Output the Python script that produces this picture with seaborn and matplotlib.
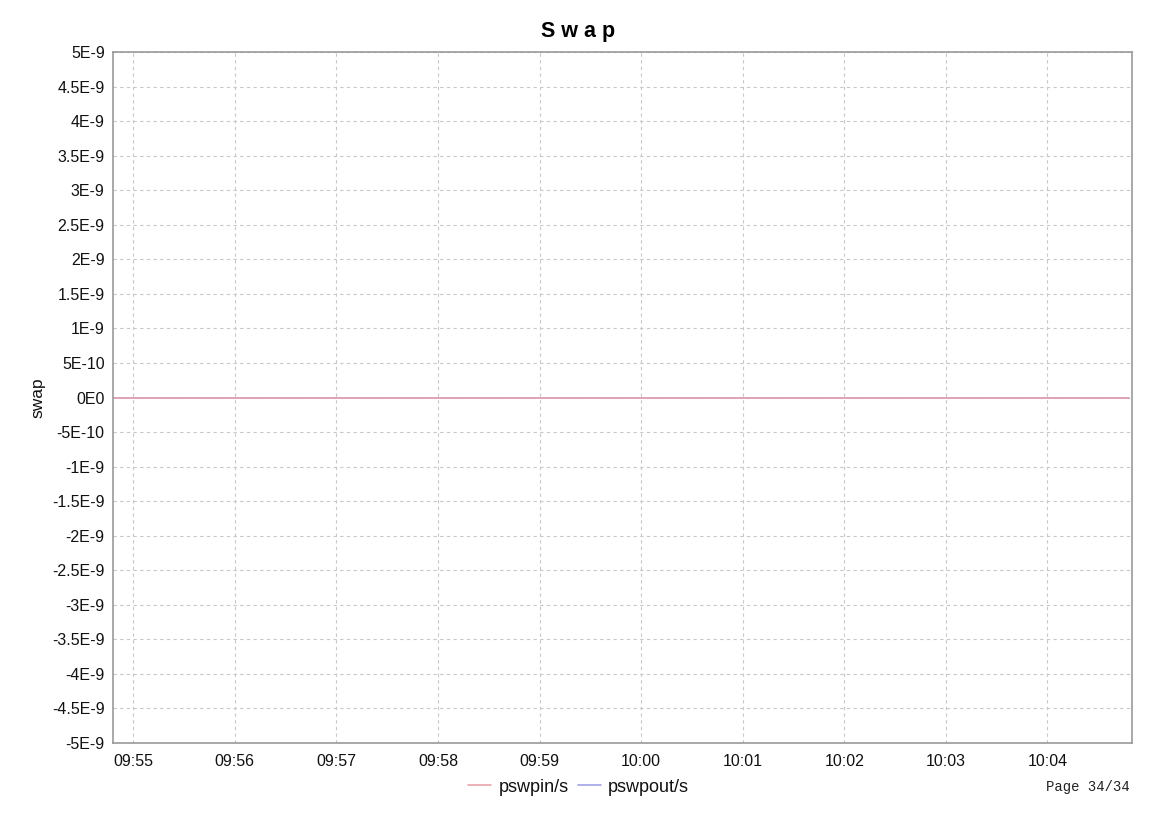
import pandas as pd
import numpy as np
import matplotlib
matplotlib.use('Agg')
import matplotlib.pyplot as plt
import matplotlib.dates as mdates
import matplotlib.ticker as mticker
import seaborn as sns

# --- Data (sampled every 30 s, both counters stayed at zero) ---
times = ['09:54:48', '09:55:18', '09:55:48', '09:56:18', '09:56:48', '09:57:18',
         '09:57:48', '09:58:18', '09:58:48', '09:59:18', '09:59:48', '10:00:18',
         '10:00:48', '10:01:18', '10:01:48', '10:02:18', '10:02:48', '10:03:18',
         '10:03:48', '10:04:18', '10:04:48']
pswpin = [0, 0, 0, 0, 0, 0, 0, 0, 0, 0, 0, 0, 0, 0, 0, 0, 0, 0, 0, 0, 0]
pswpout = [0, 0, 0, 0, 0, 0, 0, 0, 0, 0, 0, 0, 0, 0, 0, 0, 0, 0, 0, 0, 0]
series_names = ['pswpin/s', 'pswpout/s']
series_colors = ['#e8a3ad', '#a3a3e6']

y_ticks = [-5e-9, -4.5e-9, -4e-9, -3.5e-9, -3e-9, -2.5e-9, -2e-9, -1.5e-9, -1e-9, -5e-10,
           0, 5e-10, 1e-9, 1.5e-9, 2e-9, 2.5e-9, 3e-9, 3.5e-9, 4e-9, 4.5e-9, 5e-9]
y_labels = ['-5E-9', '-4.5E-9', '-4E-9', '-3.5E-9', '-3E-9', '-2.5E-9', '-2E-9', '-1.5E-9',
            '-1E-9', '-5E-10', '0E0', '5E-10', '1E-9', '1.5E-9', '2E-9', '2.5E-9', '3E-9',
            '3.5E-9', '4E-9', '4.5E-9', '5E-9']
x_ticks = ['09:55', '09:56', '09:57', '09:58', '09:59', '10:00', '10:01', '10:02', '10:03', '10:04']

day = '2020-01-01 '
df = pd.DataFrame({
    'time': pd.to_datetime([day + t for t in times] * 2),
    'value': pswpin + pswpout,
    'series': [series_names[0]] * len(times) + [series_names[1]] * len(times),
})

sns.set_style('white')
plt.rcParams['font.family'] = ['Liberation Sans', 'DejaVu Sans']

fig = plt.figure(figsize=(11.57, 8.18), dpi=100)
ax = fig.add_axes([113 / 1157, 1 - 743 / 818, (1132 - 113) / 1157, (743 - 52) / 818])

# draw pswpout first so pswpin sits on top like in the original
for name, color in list(zip(series_names, series_colors))[::-1]:
    sns.lineplot(data=df[df['series'] == name], x='time', y='value', color=color,
                 linewidth=1.2, ax=ax, label=name)

ax.set_xlim(pd.Timestamp(day + '09:54:48'), pd.Timestamp(day + '10:04:50'))
ax.set_ylim(-5e-9, 5e-9)
ax.set_yticks(y_ticks)
ax.yaxis.set_major_formatter(mticker.FixedFormatter(y_labels))
ax.set_xticks(pd.to_datetime([day + t for t in x_ticks]))
ax.xaxis.set_major_formatter(mdates.DateFormatter('%H:%M'))

ax.grid(True, color='#c8c8c8', linestyle=(0, (3, 3)), linewidth=0.8)
for s in ax.spines.values():
    s.set_color('#999999')
    s.set_linewidth(1.2)
ax.tick_params(axis='both', direction='out', length=4, color='#999999', width=0.8,
               labelsize=11.5, labelcolor='#111111')
ax.tick_params(axis='y', pad=2)
ax.tick_params(axis='x', pad=4)

ax.set_xlabel('')
ax.set_ylabel('swap', fontsize=12.5, color='#111111')
ax.yaxis.set_label_coords(-0.066, 0.5)
fig.suptitle('S w a p', x=0.5, y=1 - 32 / 818, va='center', fontsize=15.5,
             fontweight='bold', color='black')

handles, labels = ax.get_legend_handles_labels()
order = [labels.index(n) for n in series_names]
fig.legend([handles[i] for i in order], [labels[i] for i in order],
           loc='center', bbox_to_anchor=(0.5, 1 - 787 / 818), ncol=2, frameon=False,
           fontsize=13, handlelength=1.3, handletextpad=0.4, columnspacing=0.5,
           labelcolor='#111111')
ax.get_legend().remove()

fig.text(1130 / 1157, 1 - 787 / 818, 'Page 34/34', family='Liberation Mono',
         fontsize=10, ha='right', va='center', color='#222222')

fig.savefig('out.png', dpi=100)
plt.close()
